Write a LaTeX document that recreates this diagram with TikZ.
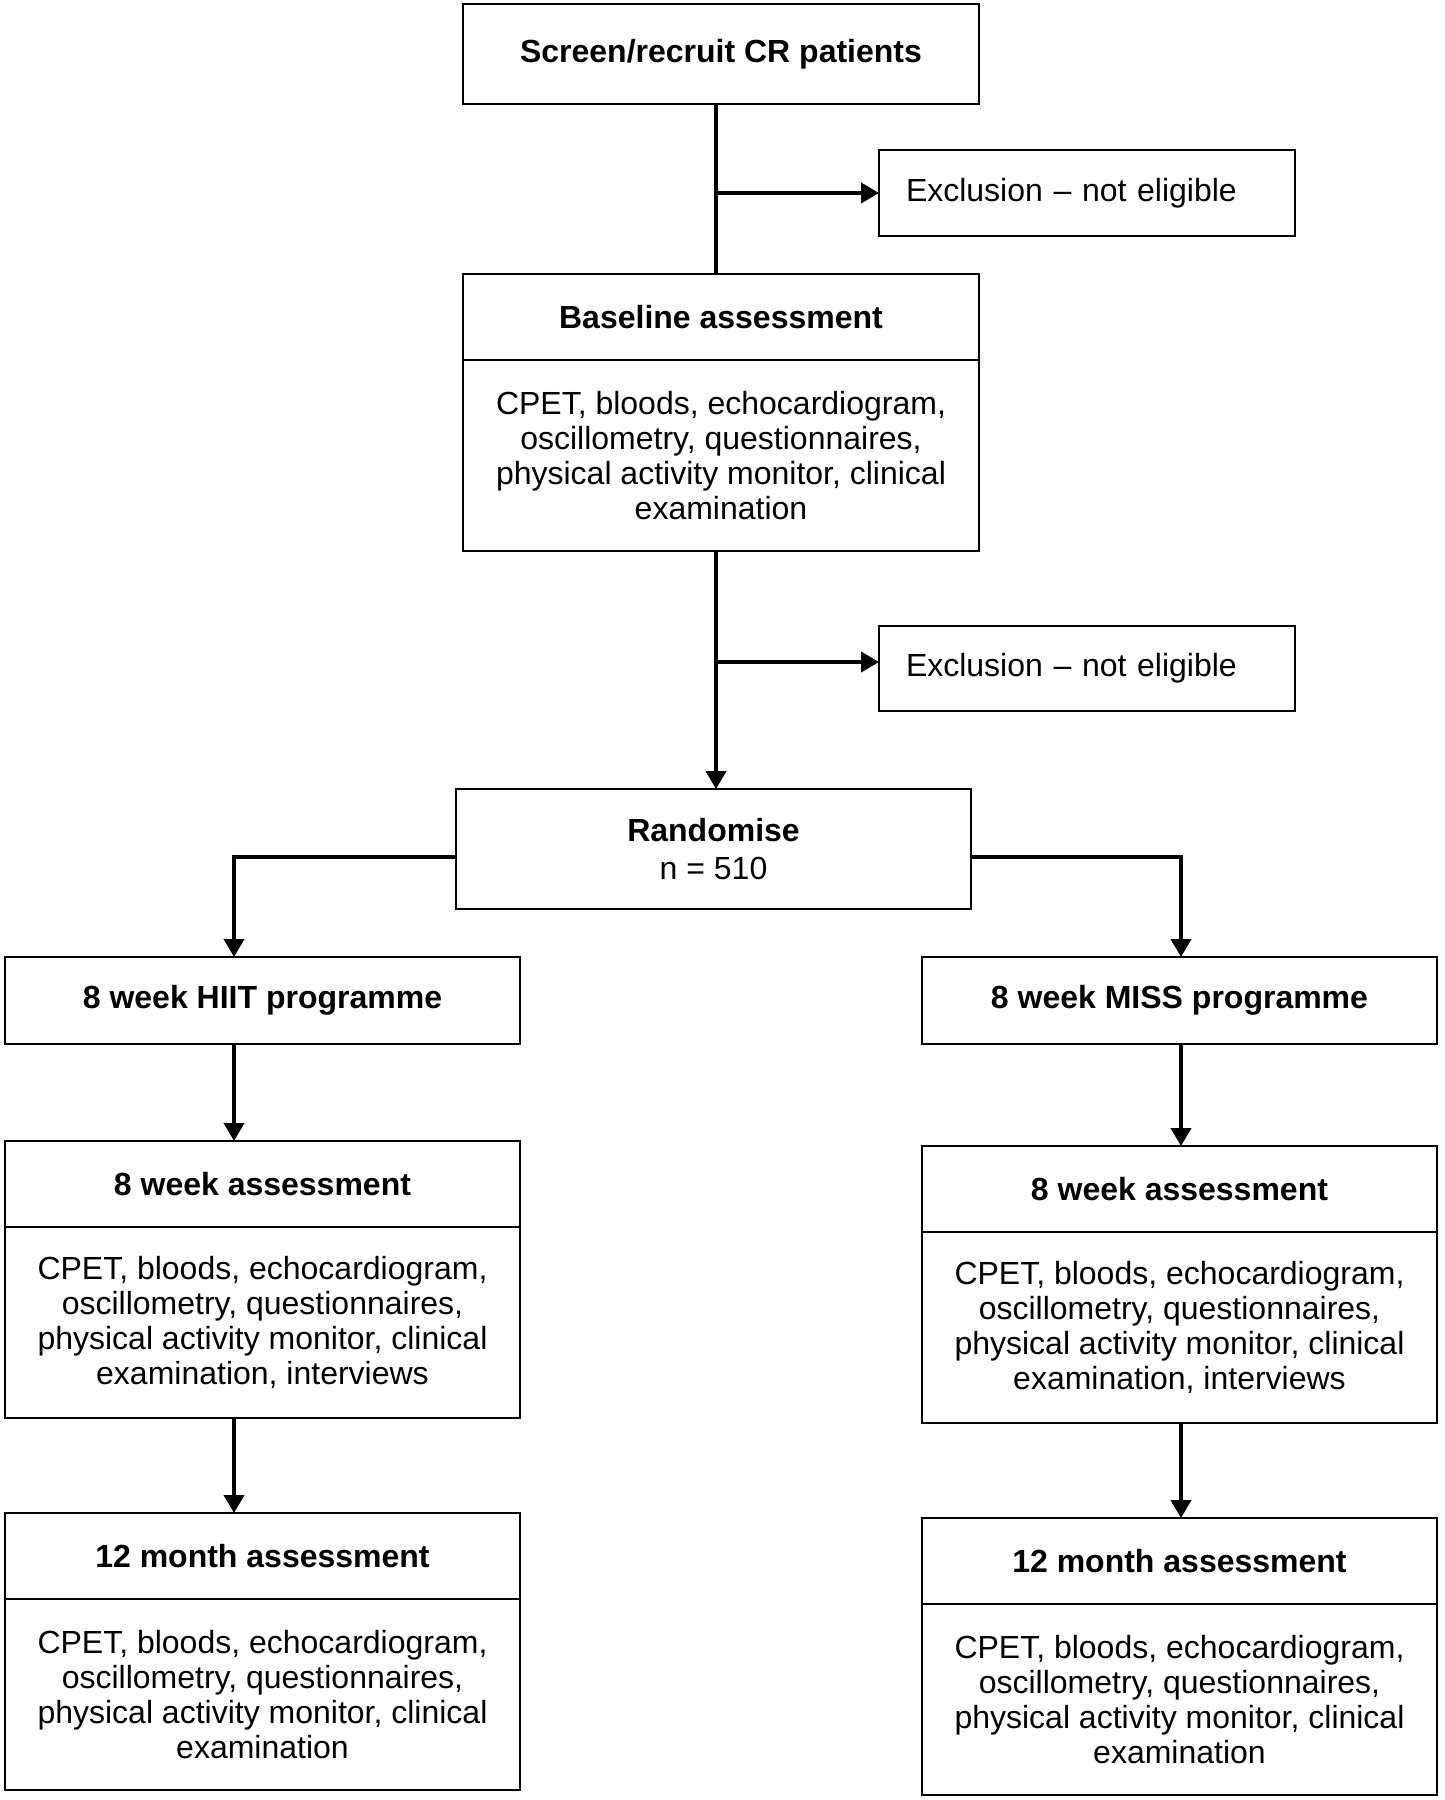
\documentclass[tikz,border=0pt]{standalone}
\usepackage{fontspec}
\setmainfont{Liberation Sans}
\usetikzlibrary{arrows.meta}
\begin{document}
\begin{tikzpicture}[x=0.5pt,y=-0.5pt,
  box/.style={draw, line width=1pt, inner sep=0pt, outer sep=0pt, align=center,
    font=\fontsize{16}{17.5}\selectfont},
  hd/.style={box, font=\fontsize{16}{17.5}\selectfont\bfseries},
  wideL/.style={minimum width=257.5pt},
  exbox/.style={box, minimum width=208pt, inner xsep=13.5pt, text width=181pt, align=left},
  conn/.style={line width=2pt},
  arr/.style={conn, -{Triangle[length=9pt,width=10pt]}}]
\useasboundingbox (0,0) rectangle (1445,1800);

% top column
\node[hd, minimum width=258pt, minimum height=50pt] (top) at (721,54) {Screen/recruit CR patients};
\node[exbox, minimum height=43pt] (ex1) at (1087,193) {Exclusion – not eligible};
\node[hd, minimum width=258pt, minimum height=43pt] (bh) at (721,317) {Baseline assessment};
\node[box, minimum width=258pt, minimum height=95.5pt] (bb) at (721,455.5)
  {CPET, bloods, echocardiogram,\\ oscillometry, questionnaires,\\ physical activity monitor, clinical\\ examination};
\node[exbox, minimum height=42.5pt] (ex2) at (1087,668.5) {Exclusion – not eligible};
\node[box, wideL, minimum height=60pt] (rand) at (713.5,849)
  {\textbf{Randomise}\\[1.5pt] n = 510};

% arms
\node[hd, wideL, minimum height=43.5pt] (hiit) at (262.5,1000.5) {8 week HIIT programme};
\node[hd, wideL, minimum height=43.5pt] (miss) at (1179.5,1000.5) {8 week MISS programme};

\node[hd, wideL, minimum height=43pt] (l8h) at (262.5,1184) {8 week assessment};
\node[box, wideL, minimum height=95.5pt] (l8b) at (262.5,1322.5)
  {CPET, bloods, echocardiogram,\\ oscillometry, questionnaires,\\ physical activity monitor, clinical\\ examination, interviews};
\node[hd, wideL, minimum height=43pt] (r8h) at (1179.5,1189) {8 week assessment};
\node[box, wideL, minimum height=95.5pt] (r8b) at (1179.5,1327.5)
  {CPET, bloods, echocardiogram,\\ oscillometry, questionnaires,\\ physical activity monitor, clinical\\ examination, interviews};

\node[hd, wideL, minimum height=43pt] (l12h) at (262.5,1556) {12 month assessment};
\node[box, wideL, minimum height=95.5pt] (l12b) at (262.5,1694.5)
  {CPET, bloods, echocardiogram,\\ oscillometry, questionnaires,\\ physical activity monitor, clinical\\ examination};
\node[hd, wideL, minimum height=43pt] (r12h) at (1179.5,1561) {12 month assessment};
\node[box, wideL, minimum height=95.5pt] (r12b) at (1179.5,1699.5)
  {CPET, bloods, echocardiogram,\\ oscillometry, questionnaires,\\ physical activity monitor, clinical\\ examination};

% connectors
\coordinate (j1) at (716,193);
\coordinate (j2) at (716,662);
\coordinate (bl) at (234,857);
\coordinate (br) at (1181,857);

\draw[conn] (top.south -| j1) -- (bh.north -| j1);
\draw[arr] (j1) -- (ex1.west);
\draw[arr] (bb.south -| j2) -- (rand.north -| j2);
\draw[arr] (j2) -- (ex2.west |- j2);
\draw[arr] (rand.west |- bl) -- (bl) -- (hiit.north -| bl);
\draw[arr] (rand.east |- br) -- (br) -- (miss.north -| br);
\draw[arr] (hiit.south -| bl) -- (l8h.north -| bl);
\draw[arr] (miss.south -| br) -- (r8h.north -| br);
\draw[arr] (l8b.south -| bl) -- (l12h.north -| bl);
\draw[arr] (r8b.south -| br) -- (r12h.north -| br);
\end{tikzpicture}
\end{document}
